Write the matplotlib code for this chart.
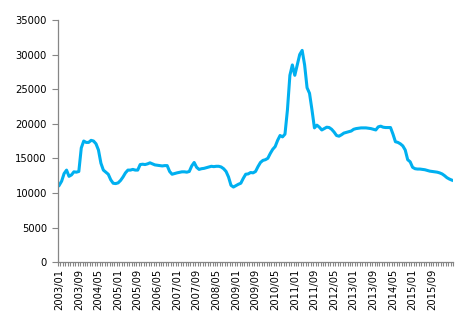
import numpy as np
import matplotlib.pyplot as plt
from matplotlib.ticker import FixedLocator, MultipleLocator

# Monthly series, 2003/01 onward
values = [
    11100, 11700, 12800, 13300, 12400, 12600, 13050, 13000, 13100, 16500,
    17500, 17300, 17300, 17600, 17500, 17100, 16200, 14300, 13300, 13000,
    12700, 11900, 11400, 11350, 11450, 11800, 12300, 12900, 13300, 13300,
    13400, 13300, 13300, 14100, 14150, 14100, 14200, 14350, 14200, 14050,
    14000, 13950, 13900, 13950, 13950, 13100, 12700, 12800, 12900, 12980,
    13050, 13050, 13000, 13100, 13900, 14400, 13700, 13400, 13500, 13550,
    13650, 13750, 13850, 13800, 13850, 13850, 13750, 13500, 13100, 12300,
    11100, 10850, 11050, 11250, 11400, 12100, 12700, 12750, 12950, 12900,
    13100, 13800, 14400, 14700, 14800, 15000, 15700, 16300, 16700, 17600,
    18300, 18100, 18500, 22000, 27000, 28500, 27000, 28500, 30000, 30600,
    28500, 25200, 24400, 22000, 19400, 19800, 19500, 19100, 19300, 19500,
    19450, 19200, 18800, 18300, 18200, 18400, 18650, 18750, 18850, 18950,
    19200, 19300, 19350, 19400, 19400, 19400, 19350, 19300, 19200, 19100,
    19550, 19650, 19500, 19450, 19450, 19450, 18500, 17400, 17300, 17100,
    16800, 16200, 14800, 14500, 13700, 13500, 13450, 13450, 13400, 13350,
    13250, 13150, 13100, 13050, 13000, 12900, 12750, 12500, 12200, 12000,
    11850,
]
months = [f"{2003 + i // 12}/{i % 12 + 1:02d}" for i in range(len(values))]

x = np.arange(len(values))
axis_col = '#868686'

fig = plt.figure(figsize=(4.6, 3.22), dpi=100)
ax = fig.add_axes([0.126, 0.186, 0.859, 0.752])
ax.plot(x, values, color='#00B0F0', linewidth=2.2, solid_joinstyle='round')

ax.set_xlim(-0.5, len(values) - 0.5)
ax.set_ylim(0, 35000)
ax.yaxis.set_major_locator(MultipleLocator(5000))

# a label every 8 months, stopping at 2015/09
label_pos = x[:153:8]
ax.xaxis.set_major_locator(FixedLocator(label_pos))
ax.set_xticklabels([months[i] for i in label_pos], rotation=90, fontsize=7.2)
ax.xaxis.set_minor_locator(FixedLocator(np.arange(-0.5, len(values), 1)))
ax.tick_params(axis='x', which='major', length=0, pad=5)
ax.tick_params(axis='x', which='minor', length=3, color=axis_col, width=0.8)
ax.tick_params(axis='y', length=4, color=axis_col, width=0.8, labelsize=7.2, pad=4)

for side in ('top', 'right'):
    ax.spines[side].set_visible(False)
for side in ('left', 'bottom'):
    ax.spines[side].set_color(axis_col)
    ax.spines[side].set_linewidth(0.9)

fig.savefig('out.png', dpi=100)
